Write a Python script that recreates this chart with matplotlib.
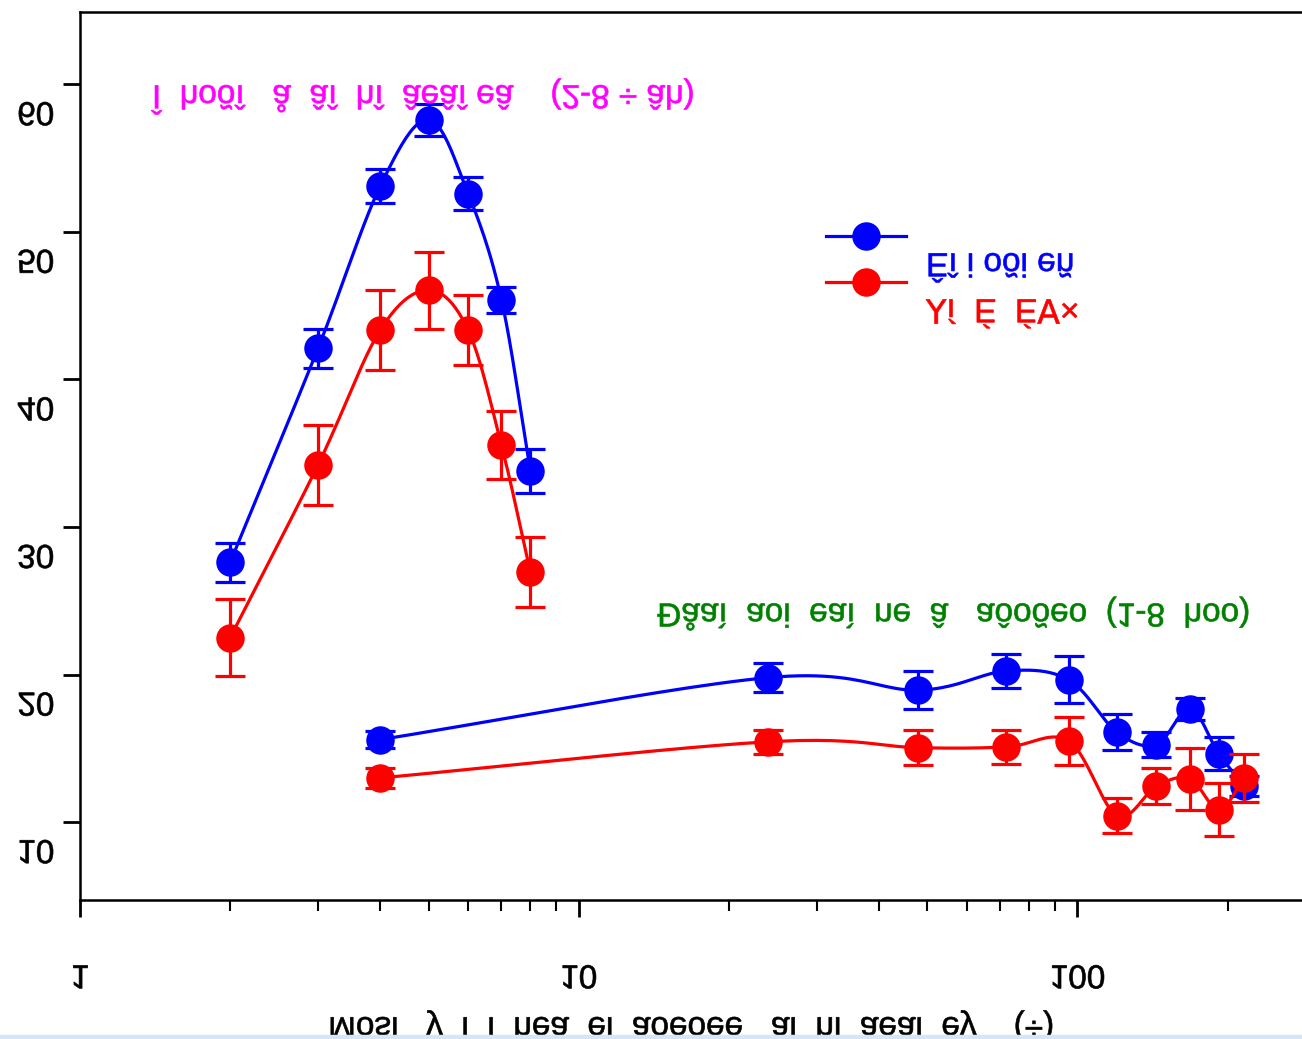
import numpy as np
import matplotlib
matplotlib.use("Agg")
import matplotlib.pyplot as plt
from matplotlib.lines import Line2D
from matplotlib.patches import Rectangle
from matplotlib.patheffects import AbstractPathEffect
from matplotlib.transforms import Affine2D
from matplotlib.ticker import LogLocator, NullFormatter

plt.rcParams['font.family'] = ['Liberation Sans', 'DejaVu Sans']

# nhom 1: tre 2-8 tuoi
tuoi = [2, 3, 4, 5, 6, 7, 8]
xanh_1 = [27.6, 42.1, 53.1, 57.6, 52.6, 45.4, 33.8]
xanh_1_ss = [1.35, 1.35, 1.15, 1.1, 1.1, 0.9, 1.5]
do_1 = [22.5, 34.2, 43.35, 46.05, 43.35, 35.55, 26.95]
do_1_ss = [2.6, 2.7, 2.7, 2.6, 2.4, 2.3, 2.4]

# nhom 2: so sinh (gio)
gio = [4, 24, 48, 72, 96, 120, 144, 168, 192, 216]
xanh_2 = [15.6, 19.8, 18.95, 20.25, 19.65, 16.1, 15.25, 17.7, 14.65, 12.45]
xanh_2_ss = [0.6, 1.0, 1.3, 1.15, 1.6, 1.2, 0.85, 0.75, 1.1, 0.7]
do_2 = [13.0, 15.45, 15.05, 15.1, 15.5, 10.45, 12.45, 12.95, 10.85, 13.0]
do_2_ss = [0.65, 0.8, 1.2, 1.15, 1.6, 1.2, 1.2, 2.1, 1.8, 1.6]

y_ticks = [10, 20, 30, 40, 50, 60]
x_ticks = [1, 10, 100]

nhan_xanh = "Êî i oõi eñ"
nhan_do = "⅄í  É  É∀×"
tieu_de_1 = "Î  hoõî   å  âî  hî  âeâî eâ    (2-8 ÷ âh)"
tieu_de_2 = "Ðåaì  aoi  eaì  ne  â   aôoõeo  (1-8  hoo)"
nhan_x = "Mosi   y  i  i  nea  ei  aoeoee   ai  ni  aeai  ey    (÷)"

CO_CHU = 24


class LatChu(AbstractPathEffect):
    # lat nguoc tung chu theo chieu doc, net dam hon mot chut
    def __init__(self, c=-18, day=0.45):
        super().__init__()
        self.c = c
        self.day = day

    def draw_path(self, renderer, gc, tpath, affine, rgbFace=None):
        lat = Affine2D().scale(1, -1).translate(0, self.c)
        gc0 = renderer.new_gc()
        gc0.copy_properties(gc)
        gc0.set_linewidth(self.day)
        if rgbFace is not None:
            gc0.set_foreground(rgbFace)
        renderer.draw_path(gc0, tpath, lat + affine, rgbFace)
        gc0.restore()


def duong_cong(x, y, n=24):
    # catmull-rom tren truc log
    lx = np.log10(np.asarray(x, float))
    y = np.asarray(y, float)
    px = np.concatenate([[2 * lx[0] - lx[1]], lx, [2 * lx[-1] - lx[-2]]])
    py = np.concatenate([[2 * y[0] - y[1]], y, [2 * y[-1] - y[-2]]])
    t = np.linspace(0, 1, n, endpoint=False)
    ox, oy = [], []
    for i in range(1, len(px) - 2):
        for p, out in ((px, ox), (py, oy)):
            p0, p1, p2, p3 = p[i - 1], p[i], p[i + 1], p[i + 2]
            out.extend(0.5 * (2 * p1 + (-p0 + p2) * t
                              + (2 * p0 - 5 * p1 + 4 * p2 - p3) * t ** 2
                              + (-p0 + 3 * p1 - 3 * p2 + p3) * t ** 3))
    ox.append(lx[-1])
    oy.append(y[-1])
    return 10 ** np.array(ox), np.array(oy)


fig = plt.figure(figsize=(13.02, 10.39), dpi=100)
ax = fig.add_axes([80 / 1302, 139 / 1039, 1222 / 1302, 888 / 1039])

lw = 2.3
ms = 19.5
for x, y, e, mau in [(tuoi, xanh_1, xanh_1_ss, 'blue'), (tuoi, do_1, do_1_ss, 'red'),
                     (gio, xanh_2, xanh_2_ss, 'blue'), (gio, do_2, do_2_ss, 'red')]:
    ax.errorbar(x, y, yerr=e, fmt='none', ecolor=mau, elinewidth=lw,
                capsize=11, capthick=lw)
    sx, sy = duong_cong(x, y)
    ax.plot(sx, sy, color=mau, lw=lw)
    ax.plot(x, y, 'o', color=mau, ms=ms)

ax.set_xscale('log')
ax.set_xlim(1, 282)
ax.set_ylim(4.73, 64.9)
ax.set_xticks(x_ticks, labels=[str(v) for v in x_ticks])
ax.xaxis.set_minor_locator(LogLocator(base=10, subs=np.arange(2, 10)))
ax.xaxis.set_minor_formatter(NullFormatter())
ax.set_yticks(y_ticks, labels=[str(v) for v in y_ticks])
ax.tick_params(axis='both', which='major', direction='out', width=2,
               length=12.5, labelsize=CO_CHU, pad=6)
ax.tick_params(axis='x', which='minor', direction='out', width=1.5, length=8)
ax.tick_params(axis='x', which='major', pad=13)
ax.spines['right'].set_visible(False)
for s in ['left', 'bottom', 'top']:
    ax.spines[s].set_linewidth(1.8)

ax.set_xlabel(nhan_x, fontsize=CO_CHU, labelpad=15)
ax.xaxis.label.set_path_effects([LatChu()])
for lbl in ax.get_xticklabels() + ax.get_yticklabels():
    lbl.set_path_effects([LatChu()])

ax.text(1.394, 61.1, tieu_de_1, color='#ff00ff', fontsize=CO_CHU, ha='left',
        va='center', path_effects=[LatChu()])
ax.text(14.37, 25.9, tieu_de_2, color='#008000', fontsize=CO_CHU, ha='left',
        va='center', path_effects=[LatChu()])

mau_chu = [Line2D([], [], color='blue', lw=lw, marker='o', ms=ms),
           Line2D([], [], color='red', lw=lw, marker='o', ms=ms)]
leg = ax.legend(mau_chu, [nhan_xanh, nhan_do], loc='upper left',
                bbox_to_anchor=(0.6105, 0.762), frameon=False, fontsize=CO_CHU,
                handlelength=2.4, handletextpad=0.6, labelspacing=0.45,
                borderpad=0, borderaxespad=0)
for t, mau in zip(leg.get_texts(), ['blue', 'red']):
    t.set_color(mau)
    t.set_path_effects([LatChu()])

fig.patches.append(Rectangle((0, 0), 1, 4 / 1039, transform=fig.transFigure,
                             color='#d6e6f6', zorder=10))

fig.savefig('out.png', dpi=100)
